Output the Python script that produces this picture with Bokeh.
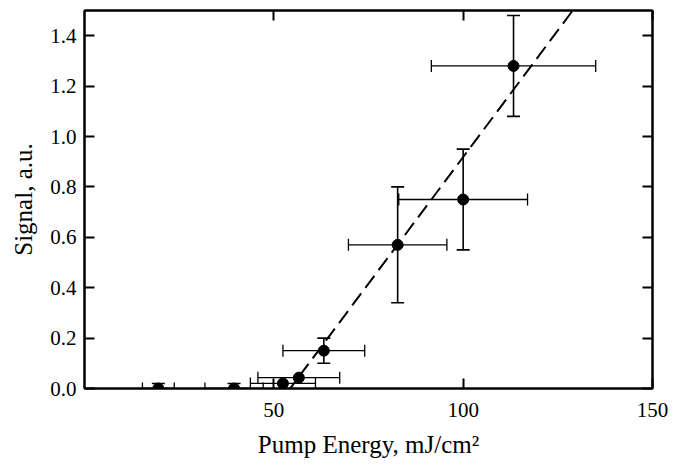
from bokeh.plotting import figure
from bokeh.models import (Range1d, LinearAxis, FixedTicker, Whisker, ColumnDataSource,
                          TeeHead, PrintfTickFormatter, CustomJSTickFormatter)
from bokeh.embed import file_html
from bokeh.resources import INLINE

# Data
energy = [19.5, 39.5, 52.4, 56.6, 63.2, 82.7, 100.0, 113.3]
signal = [0.0, 0.0, 0.02, 0.043, 0.15, 0.57, 0.75, 1.28]
energy_err = [4.2, 7.7, 8.6, 10.8, 10.8, 13.0, 17.0, 21.7]
signal_err = [0.02, 0.02, 0.0, 0.0, 0.05, 0.23, 0.20, 0.20]

# Linear fit above threshold (dashed line)
fit_threshold = 54.3
fit_slope = 0.0201
fit_x_end = 132.0

x_ticks = [50, 100, 150]
y_ticks = [0.0, 0.2, 0.4, 0.6, 0.8, 1.0, 1.2, 1.4]

FONT = "Liberation Serif"

p = figure(width=683, height=465, x_range=Range1d(0, 150), y_range=Range1d(0, 1.5),
           output_backend="svg", toolbar_location=None,
           min_border_left=84, min_border_right=31, min_border_top=10, min_border_bottom=77,
           x_axis_label="Pump Energy, mJ/cm\u00b2", y_axis_label="Signal, a.u.")
p.xgrid.visible = False
p.ygrid.visible = False
p.outline_line_color = "black"
p.outline_line_width = 2
p.background_fill_color = "white"
p.border_fill_color = "white"

p.xaxis.ticker = FixedTicker(ticks=x_ticks)
p.yaxis.ticker = FixedTicker(ticks=y_ticks)
p.yaxis.formatter = PrintfTickFormatter(format="%.1f")

for ax in (p.xaxis[0], p.yaxis[0]):
    ax.axis_line_width = 2
    ax.axis_line_color = "black"
    ax.major_tick_in = 10
    ax.major_tick_out = 0
    ax.major_tick_line_width = 2
    ax.minor_tick_line_color = None
    ax.major_label_text_font = FONT
    ax.major_label_text_font_size = "21px"
    ax.major_label_text_color = "black"
    ax.axis_label_text_font = FONT
    ax.axis_label_text_font_size = "25px"
    ax.axis_label_text_font_style = "normal"
    ax.axis_label_text_color = "black"

p.xaxis.major_label_standoff = 14
p.yaxis.major_label_standoff = 8
p.xaxis.axis_label_standoff = 11
p.yaxis.axis_label_standoff = 10

blank = CustomJSTickFormatter(code="return '';")
right = LinearAxis(ticker=FixedTicker(ticks=y_ticks), formatter=blank)
top = LinearAxis(ticker=FixedTicker(ticks=x_ticks), formatter=blank)
for ax in (right, top):
    ax.axis_line_width = 2
    ax.major_tick_in = 10
    ax.major_tick_out = 0
    ax.major_tick_line_width = 2
    ax.minor_tick_line_color = None
    ax.major_label_standoff = 0
p.add_layout(right, "right")
p.add_layout(top, "above")

# Error bars
src = ColumnDataSource(dict(
    x=energy, y=signal,
    xl=[e - d for e, d in zip(energy, energy_err)],
    xu=[e + d for e, d in zip(energy, energy_err)],
))
p.add_layout(Whisker(source=src, base="y", lower="xl", upper="xu", dimension="width",
                     line_color="black", line_width=1.3,
                     lower_head=TeeHead(size=12, line_width=1.3, line_color="black"),
                     upper_head=TeeHead(size=12, line_width=1.3, line_color="black")))

yi = [i for i, d in enumerate(signal_err) if d > 0]
src_y = ColumnDataSource(dict(
    x=[energy[i] for i in yi],
    yl=[signal[i] - signal_err[i] for i in yi],
    yu=[signal[i] + signal_err[i] for i in yi],
))
p.add_layout(Whisker(source=src_y, base="x", lower="yl", upper="yu", dimension="height",
                     line_color="black", line_width=1.6,
                     lower_head=TeeHead(size=13, line_width=1.6, line_color="black"),
                     upper_head=TeeHead(size=13, line_width=1.6, line_color="black")))

# Fit line
fit_x = [fit_threshold - 1.0, fit_x_end]
fit_y = [fit_slope * (x - fit_threshold) for x in fit_x]
p.line(fit_x, fit_y, line_color="black", line_width=2, line_dash="15 7")

# Points
p.scatter(energy, signal, size=11, marker="circle", fill_color="black", line_color="black")

open("out.html", "w").write(file_html(p, INLINE))
